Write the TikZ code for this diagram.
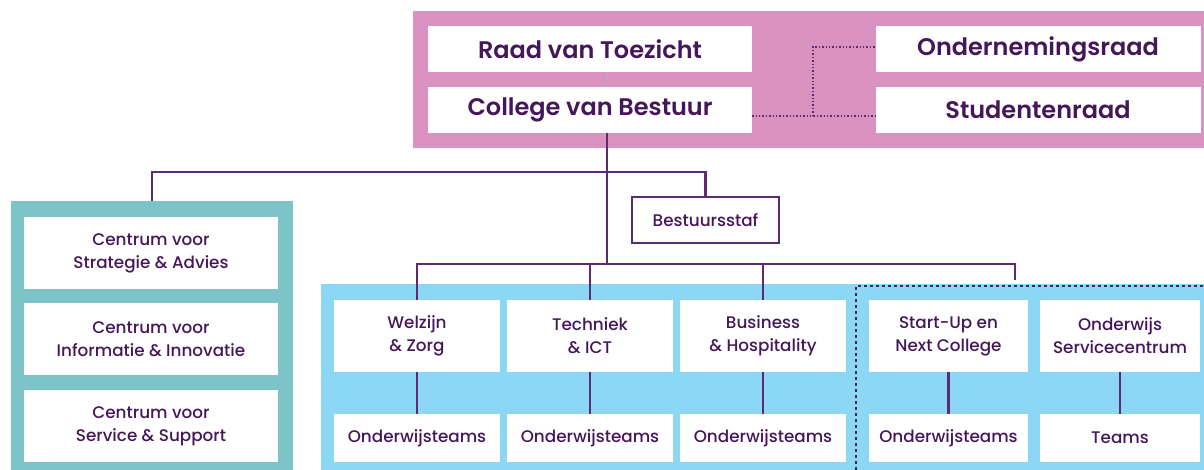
\documentclass[tikz,border=0pt]{standalone}
\usepackage{fontspec}
\setmainfont{Poppins}[UprightFont=* Medium, BoldFont=* SemiBold]
\definecolor{pinkbg}{HTML}{DA92C0}
\definecolor{tealbg}{HTML}{7DC4C9}
\definecolor{bluebg}{HTML}{8CD7F4}
\definecolor{lineP}{HTML}{5B2C6F}
\definecolor{txt}{HTML}{45175A}
\begin{document}
\begin{tikzpicture}[x=1pt,y=-1pt,
  wbox/.style={fill=white, draw=none, inner sep=0pt, align=center, text=txt},
  topbox/.style={wbox, minimum width=324pt, minimum height=46pt, font=\fontsize{24}{28}\selectfont\bfseries},
  sidebox/.style={wbox, minimum width=254pt, minimum height=72pt, font=\fontsize{16.8}{23}\selectfont},
  unitbox/.style={wbox, minimum height=72pt, font=\fontsize{16.8}{23}\selectfont},
  teambox/.style={wbox, minimum height=48pt, font=\fontsize{16.8}{23}\selectfont},
  conn/.style={draw=lineP, line width=2.4pt},
  dotc/.style={draw=lineP, line width=1.4pt, dotted},
  borderdot/.style={draw=lineP!80!black, line width=2.2pt, dash pattern=on 3pt off 3pt}
]
\useasboundingbox (0,0) rectangle (1204,470);
% backgrounds
\fill[pinkbg] (413,11) rectangle (1204,148);
\fill[tealbg] (11,201) rectangle (293,470);
\fill[bluebg] (321,284) rectangle (1204,470);
% top
\node[topbox] (raad) at (590,49) {Raad van Toezicht};
\node[topbox] (cvb) at (590,110) {College van Bestuur};
\node[topbox, minimum width=325pt] (or) at (1038,49) {Ondernemingsraad};
\node[topbox, minimum width=325pt] (sr) at (1038,110) {Studentenraad};
% dotted links
\draw[draw=lineP!40, line width=1.2pt, dotted] (raad.south -| cvb.south) ++(17,0) -- ++(0,15);
\coordinate (dlow) at (813,116);
\coordinate (dhigh) at (813,47);
\draw[dotc] (cvb.east |- dlow) -- (sr.west |- dlow);
\draw[dotc] (dlow) -- (dhigh) -- (or.west |- dhigh);
% staff
\node[draw=lineP, line width=1.5pt, fill=white, text=txt, minimum width=147pt, minimum height=46pt, inner sep=0pt, font=\fontsize{16.8}{23}\selectfont] (bstaf) at (705.5,220) {Bestuursstaf};
% left centres
\node[sidebox] (c1) at (151,253) {Centrum voor\\Strategie \& Advies};
\node[sidebox] (c2) at (151,339) {Centrum voor\\Informatie \& Innovatie};
\node[sidebox] (c3) at (151,426) {Centrum voor\\Service \& Support};
% units
\node[unitbox, minimum width=166pt] (wz) at (417,336) {Welzijn\\\& Zorg};
\node[unitbox, minimum width=166pt] (ti) at (590,336) {Techniek\\\& ICT};
\node[unitbox, minimum width=166pt] (bh) at (763,336) {Business\\\& Hospitality};
\node[unitbox, minimum width=159pt] (su) at (948.5,336) {Start-Up en\\Next College};
\node[unitbox, minimum width=160pt] (os) at (1120,336) {Onderwijs\\Servicecentrum};
\node[teambox, minimum width=166pt] (wzt) at (417,438) {Onderwijsteams};
\node[teambox, minimum width=166pt] (tit) at (590,438) {Onderwijsteams};
\node[teambox, minimum width=166pt] (bht) at (763,438) {Onderwijsteams};
\node[teambox, minimum width=159pt] (sut) at (948.5,438) {Onderwijsteams};
\node[teambox, minimum width=160pt] (ost) at (1120,438) {Teams};
% dotted group border
\draw[borderdot] (856,470) -- (856,286) -- (1204,286);
% connectors
\coordinate (hub1) at (607,172);
\coordinate (hub2) at (607,264);
\coordinate (tl) at (152,201);
\coordinate (grp) at (1015,280);
\draw[conn] (cvb.south -| hub2) -- (hub2);
\draw[conn] (tl) |- (hub1) -| (bstaf.north);
\draw[conn] (wz.north) |- (hub2) -| (grp);
\draw[conn] (ti.north) -- (ti.north |- hub2);
\draw[conn] (bh.north) -- (bh.north |- hub2);
\draw[conn] (wz.south) -- (wzt.north);
\draw[conn] (ti.south) -- (tit.north);
\draw[conn] (bh.south) -- (bht.north);
\draw[conn] (su.south) -- (sut.north);
\draw[conn] (os.south) -- (ost.north);
\end{tikzpicture}
\end{document}
